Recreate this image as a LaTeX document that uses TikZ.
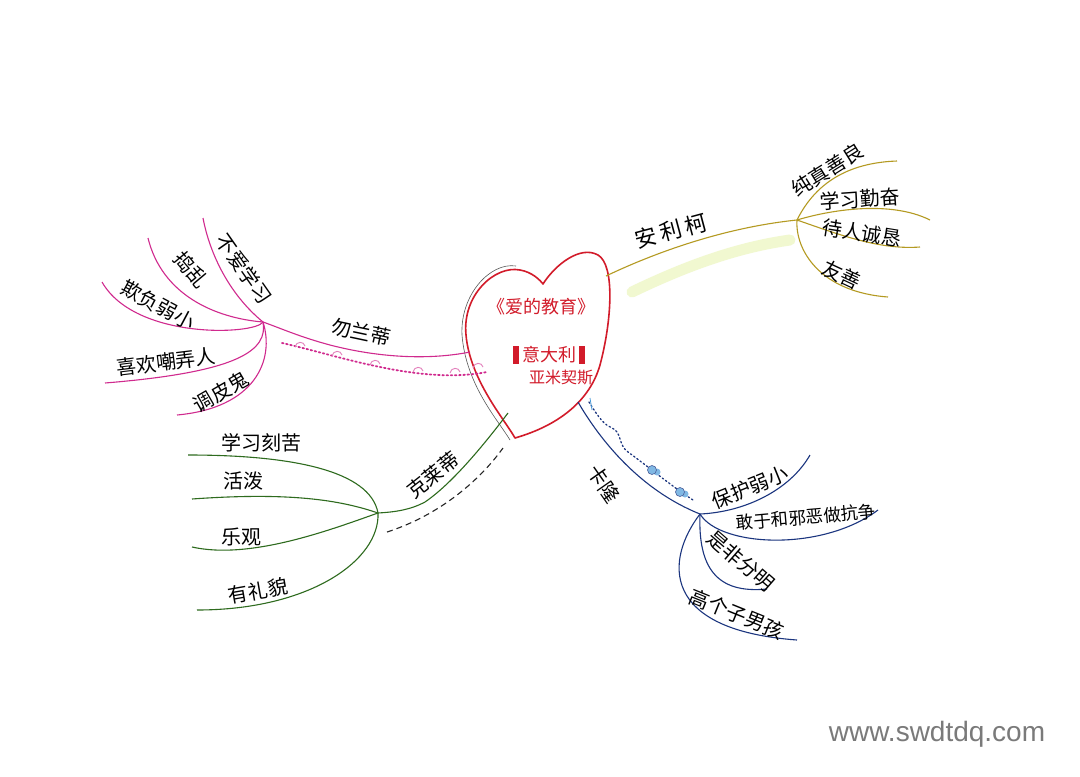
\documentclass[tikz,border=0pt]{standalone}
\usepackage{fontspec}
\setmainfont{Liberation Sans}
\newfontfamily\cjk{Noto Sans CJK SC}
\definecolor{hred}{HTML}{D21B2A}
\definecolor{hpink}{HTML}{D02A8E}
\definecolor{holive}{HTML}{B49A22}
\definecolor{hgreen}{HTML}{2E6B1E}
\definecolor{hblue}{HTML}{1B357F}
\definecolor{hlblue}{HTML}{4A9AD8}
\definecolor{hhi}{HTML}{D8EC7A}
\definecolor{wm}{HTML}{7A7A7A}
\tikzset{
  lbl/.style={font=\cjk\fontsize{20}{20}\selectfont, text=black, inner sep=0pt},
  smalllbl/.style={font=\cjk\fontsize{17.5}{17.5}\selectfont, text=black, inner sep=0pt},
  ctr/.style={font=\cjk\fontsize{18}{18}\selectfont, text=hred, inner sep=0pt},
  pinkline/.style={draw=hpink, line width=1.1pt},
  oliveline/.style={draw=holive, line width=1.1pt},
  greenline/.style={draw=hgreen, line width=1.1pt},
  blueline/.style={draw=hblue, line width=1.1pt},
}
\newcommand{\redbar}{\textcolor{hred}{\rule[-3pt]{6pt}{18pt}}}
\begin{document}
\begin{tikzpicture}[x=1pt,y=-1pt]
\useasboundingbox (0,0) rectangle (1080,777);
\fill[white] (0,0) rectangle (1080,777);

% ---------- highlight under olive branch
\draw[hhi, line width=11pt, line cap=round, opacity=0.35] (632,292) .. controls (690,264) and (740,247) .. (790,240);

% ---------- heart
\coordinate (heartL) at (470,352);
\coordinate (heartR) at (606,276);
\coordinate (heartBL) at (508,413);
\coordinate (heartBR) at (578,402);
\draw[gray!70!black, line width=0.6pt] (510,440) .. controls (498,420) and (466,385) .. (462,335) .. controls (460,295) and (490,262) .. (516,266);
\draw[hred, line width=1.6pt, line join=round] (515,438) .. controls (505,420) and (470,380) .. (466,335) .. controls (462,295) and (495,265) .. (520,270) .. controls (532,272) and (540,280) .. (543,284) .. controls (555,265) and (580,245) .. (598,255) .. controls (615,265) and (612,320) .. (600,365) .. controls (590,400) and (560,425) .. (515,438) -- cycle;
\node[ctr] (title) at (541,307) {《爱的教育》};
\node[ctr] (country) at (549,355) {\redbar\,意大利\,\redbar};
\node[ctr, font=\cjk\fontsize{16}{16}\selectfont] (author) at (561,378) {亚米契斯};

% ---------- olive branch (安利柯)
\coordinate (hubA) at (797,220);
\draw[oliveline] (heartR) .. controls (650,255) and (720,228) .. (hubA);
\node[lbl, rotate=15, font=\cjk\fontsize{22}{22}\selectfont] (anlike) at (671,231) {安\,利\,柯};
\coordinate (a1) at (897,161);
\coordinate (a2) at (930,220);
\coordinate (a3) at (920,247);
\coordinate (a4) at (888,297);
\draw[oliveline] (hubA) .. controls (812,190) and (840,163) .. (a1);
\draw[oliveline] (hubA) .. controls (830,210) and (890,200) .. (a2);
\draw[oliveline] (hubA) .. controls (840,235) and (880,250) .. (a3);
\draw[oliveline] (hubA) .. controls (795,250) and (820,292) .. (a4);
\node[lbl, rotate=32] (c1) at (827,170) {纯真善良};
\node[lbl, rotate=4] (c2) at (860,199) {学习勤奋};
\node[lbl, rotate=-9] (c3) at (862,233) {待人诚恳};
\node[lbl, rotate=-25] (c4) at (842,275) {友善};

% ---------- pink branch (勿兰蒂)
\coordinate (hubF) at (263,322);
\draw[pinkline] (heartL) .. controls (430,360) and (380,358) .. (330,345) .. controls (300,337) and (280,328) .. (hubF);
\node[lbl, rotate=-12] (franti) at (361,332) {勿兰蒂};
\draw[hpink, line width=1.8pt, dash pattern=on 1.6pt off 2.6pt, line cap=round] (282,343) .. controls (340,356) and (420,385) .. (487,372);
\foreach \px/\py in {300/345, 337/354, 375/363, 418/370, 455/371, 478/366}
  \draw[hpink!60, line width=0.9pt] (\px-5,\py+2) .. controls (\px-4,\py-4) and (\px+4,\py-4) .. (\px+5,\py+1);
\coordinate (f1) at (203,218);
\coordinate (f2) at (148,238);
\coordinate (f3) at (102,282);
\coordinate (f4) at (105,383);
\coordinate (f5) at (177,415);
\draw[pinkline] (hubF) .. controls (230,295) and (210,255) .. (f1);
\draw[pinkline] (hubF) .. controls (215,318) and (162,295) .. (f2);
\draw[pinkline] (hubF) .. controls (255,335) and (135,340) .. (f3);
\draw[pinkline] (hubF) .. controls (268,350) and (240,372) .. (f4);
\draw[pinkline] (hubF) .. controls (275,360) and (255,408) .. (f5);
\node[lbl, rotate=-55] (p1) at (244,269) {不爱学习};
\node[lbl, rotate=-50] (p2) at (191,270) {捣乱};
\node[lbl, rotate=-28] (p3) at (158,305) {欺负弱小};
\node[lbl, rotate=7] (p4) at (166,362) {喜欢嘲弄人};
\node[lbl, rotate=30] (p5) at (221,392) {调皮鬼};

% ---------- green branch (克莱蒂)
\coordinate (hubG) at (378,513);
\draw[greenline] (heartBL) .. controls (480,450) and (450,485) .. (425,502) .. controls (410,510) and (395,512) .. (hubG);
\node[lbl, rotate=38] (cleti) at (433,475) {克莱蒂};
\draw[black!85, line width=1.1pt, dash pattern=on 6pt off 4pt] (387,532) .. controls (440,515) and (480,480) .. (503,448);
\coordinate (g1) at (188,455);
\coordinate (g2) at (192,499);
\coordinate (g3) at (192,547);
\coordinate (g4) at (197,610);
\draw[greenline] (hubG) .. controls (370,470) and (290,455) .. (g1);
\draw[greenline] (hubG) .. controls (340,500) and (290,492) .. (g2);
\draw[greenline] (hubG) .. controls (330,530) and (250,560) .. (g3);
\draw[greenline] (hubG) .. controls (380,560) and (310,610) .. (g4);
\node[lbl] (k1) at (261,443) {学习刻苦};
\node[lbl] (k2) at (243,481) {活泼};
\node[lbl] (k3) at (241,537) {乐观};
\node[lbl, rotate=10] (k4) at (258,591) {有礼貌};

% ---------- blue branch (卡隆)
\coordinate (hubC) at (700,514);
\draw[blueline] (heartBR) .. controls (600,440) and (640,490) .. (hubC);
\node[lbl, rotate=-55] (garrone) at (604,484) {卡隆};
\draw[hblue, line width=1.3pt, dash pattern=on 1.5pt off 2.5pt, line cap=round] (589,402) .. controls (600,420) and (605,425) .. (612,428) .. controls (622,432) and (618,445) .. (628,452) .. controls (650,468) and (670,485) .. (693,500);
\draw[hlblue, line width=0.8pt] (590,398) -- (592,410);
\foreach \bx/\by in {652/470, 680/492}{
  \fill[hlblue!70] (\bx,\by) circle (4.5pt);
  \fill[hlblue!70] (\bx+5,\by+2) circle (3.5pt);
  \draw[hblue!80, line width=0.6pt] (\bx,\by) circle (4.5pt);
}
\coordinate (b1) at (810,455);
\coordinate (b2) at (878,510);
\coordinate (b3) at (767,589);
\coordinate (b4) at (797,640);
\draw[blueline] (hubC) .. controls (745,512) and (790,490) .. (b1);
\draw[blueline] (hubC) .. controls (720,547) and (822,552) .. (b2);
\draw[blueline] (hubC) .. controls (698,567) and (716,594) .. (b3);
\draw[blueline] (hubC) .. controls (665,560) and (660,630) .. (b4);
\node[lbl, rotate=22] (q1) at (750,487) {保护弱小};
\node[smalllbl, rotate=5] (q2) at (806,517) {敢于和邪恶做抗争};
\node[lbl, rotate=-41] (q3) at (741,561) {是非分明};
\node[lbl, rotate=-22] (q4) at (737,614) {高个子男孩};

% ---------- watermark
\node[text=wm, font=\fontsize{28}{28}\selectfont, inner sep=0pt] (wmark) at (937,734) {www.swdtdq.com};
\end{tikzpicture}
\end{document}
